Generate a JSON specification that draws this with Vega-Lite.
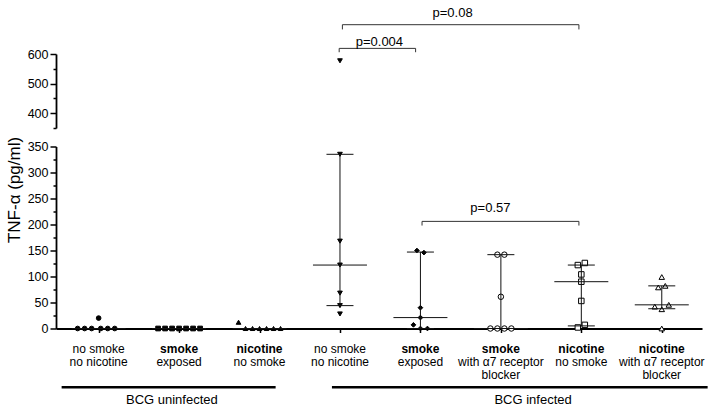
{
  "$schema": "https://vega.github.io/schema/vega-lite/v6.json",
  "padding": {"left": 5, "top": 6, "right": 5, "bottom": 0},
  "spacing": 6.5,
  "config": {
    "view": {"stroke": null},
    "font": "Liberation Sans",
    "axis": {"grid": false, "labelFont": "Liberation Sans", "titleFont": "Liberation Sans", "domainColor": "black", "tickColor": "black", "labelColor": "black", "titleColor": "black"},
    "text": {"font": "Liberation Sans", "color": "black"}
  },
  "datasets": {
    "points": [
      {"pos": 1, "value": 20, "jit": 0},
      {"pos": 1, "value": 0, "jit": -3}, {"pos": 1, "value": 0, "jit": -2}, {"pos": 1, "value": 0, "jit": -1},
      {"pos": 1, "value": 0, "jit": 0.3}, {"pos": 1, "value": 0, "jit": 1.3}, {"pos": 1, "value": 0, "jit": 2.3},
      {"pos": 2, "value": 0, "jit": -3}, {"pos": 2, "value": 0, "jit": -2}, {"pos": 2, "value": 0, "jit": -1}, {"pos": 2, "value": 0, "jit": 0},
      {"pos": 2, "value": 0, "jit": 1}, {"pos": 2, "value": 0, "jit": 2}, {"pos": 2, "value": 0, "jit": 3},
      {"pos": 3, "value": 12, "jit": -3},
      {"pos": 3, "value": 0, "jit": -2}, {"pos": 3, "value": 0, "jit": -1}, {"pos": 3, "value": 0, "jit": 0},
      {"pos": 3, "value": 0, "jit": 1}, {"pos": 3, "value": 0, "jit": 2}, {"pos": 3, "value": 0, "jit": 3},
      {"pos": 4, "value": 577, "jit": 0}, {"pos": 4, "value": 335, "jit": 0}, {"pos": 4, "value": 168, "jit": 0},
      {"pos": 4, "value": 122, "jit": 0}, {"pos": 4, "value": 68, "jit": 0}, {"pos": 4, "value": 44, "jit": 0}, {"pos": 4, "value": 28, "jit": 0},
      {"pos": 5, "value": 150, "jit": -0.5}, {"pos": 5, "value": 146, "jit": 0.5}, {"pos": 5, "value": 40, "jit": 0},
      {"pos": 5, "value": 21, "jit": 0}, {"pos": 5, "value": 7, "jit": -1}, {"pos": 5, "value": 0, "jit": 0}, {"pos": 5, "value": 0, "jit": 1},
      {"pos": 6, "value": 142, "jit": -0.5}, {"pos": 6, "value": 142, "jit": 0.5}, {"pos": 6, "value": 61, "jit": 0},
      {"pos": 6, "value": 0, "jit": -1.5}, {"pos": 6, "value": 0, "jit": -0.5}, {"pos": 6, "value": 0, "jit": 0.5}, {"pos": 6, "value": 0, "jit": 1.5},
      {"pos": 7, "value": 126, "jit": 0.5}, {"pos": 7, "value": 122, "jit": -0.5}, {"pos": 7, "value": 104, "jit": 0},
      {"pos": 7, "value": 90, "jit": 0}, {"pos": 7, "value": 53, "jit": 0}, {"pos": 7, "value": 2, "jit": -0.5}, {"pos": 7, "value": 7, "jit": 0.5},
      {"pos": 8, "value": 99, "jit": 0}, {"pos": 8, "value": 82, "jit": 0.5}, {"pos": 8, "value": 79, "jit": -0.5},
      {"pos": 8, "value": 45.5, "jit": 1}, {"pos": 8, "value": 42, "jit": -1}, {"pos": 8, "value": 37, "jit": 0}, {"pos": 8, "value": 0, "jit": 0}
    ],
    "stats": [
      {"pos": 1, "median": 0, "q1": 0, "q3": 0},
      {"pos": 2, "median": 0, "q1": 0, "q3": 0},
      {"pos": 3, "median": 0, "q1": 0, "q3": 0},
      {"pos": 4, "median": 122, "q1": 44, "q3": 335},
      {"pos": 5, "median": 21, "q1": 0, "q3": 147},
      {"pos": 6, "median": 0, "q1": 0, "q3": 142},
      {"pos": 7, "median": 90, "q1": 5, "q3": 122},
      {"pos": 8, "median": 45.5, "q1": 38, "q3": 82}
    ],
    "bracketsTop": [
      {"a": 3.99, "b": 4.94, "top": 619, "drop": 606, "label": "p=0.004", "lx": 4.49, "ly": 642},
      {"a": 4.03, "b": 6.97, "top": 699, "drop": 683, "label": "p=0.08", "lx": 5.40, "ly": 739}
    ],
    "bracketsLow": [
      {"a": 5.02, "b": 6.97, "top": 206, "drop": 198, "label": "p=0.57", "lx": 5.87, "ly": 231}
    ],
    "labels": [
      {"pos": 1, "row": "1", "text": "no smoke"}, {"pos": 1, "row": "2", "text": "no nicotine"},
      {"pos": 2, "row": "1", "text": "smoke"}, {"pos": 2, "row": "2", "text": "exposed"},
      {"pos": 3, "row": "1", "text": "nicotine"}, {"pos": 3, "row": "2", "text": "no smoke"},
      {"pos": 4, "row": "1", "text": "no smoke"}, {"pos": 4, "row": "2", "text": "no nicotine"},
      {"pos": 5, "row": "1", "text": "smoke"}, {"pos": 5, "row": "2", "text": "exposed"},
      {"pos": 6, "row": "1", "text": "smoke"}, {"pos": 6, "row": "2", "text": "with α7 receptor"}, {"pos": 6, "row": "3", "text": "blocker"},
      {"pos": 7, "row": "1", "text": "nicotine"}, {"pos": 7, "row": "2", "text": "no smoke"},
      {"pos": 8, "row": "1", "text": "nicotine"}, {"pos": 8, "row": "2", "text": "with α7 receptor"}, {"pos": 8, "row": "3", "text": "blocker"}
    ],
    "groups": [
      {"start": 0.54, "end": 3.20, "center": 1.91, "name": "BCG uninfected"},
      {"start": 3.90, "end": 8.57, "center": 6.40, "name": "BCG infected"}
    ]
  },
  "vconcat": [
    {
      "width": 646,
      "height": 74,
      "resolve": {"axis": {"y": "independent"}},
      "layer": [
        {
          "data": {"name": "points"},
          "transform": [{"filter": "datum.value > 350"}],
          "mark": {"type": "point", "filled": true, "stroke": "black", "strokeWidth": 1, "opacity": 1, "xOffset": {"expr": "datum.jit * 7"}},
          "encoding": {
            "x": {"field": "pos", "type": "quantitative", "scale": {"domain": [0.47, 8.5], "nice": false, "zero": false}, "axis": null},
            "y": {"field": "value", "type": "quantitative", "scale": {"domain": [350, 600], "nice": false, "zero": false},
                  "axis": {"orient": "left", "values": [400, 500, 600], "tickSize": 6, "tickWidth": 1.5, "domainWidth": 1.8, "labelFontSize": 12.5, "labelPadding": 2, "title": null, "offset": 0}},
            "shape": {"field": "pos", "type": "nominal", "legend": null,
                      "scale": {"domain": [1, 2, 3, 4, 5, 6, 7, 8], "range": ["circle", "square", "triangle-up", "triangle-down", "diamond", "circle", "square", "triangle-up"]}},
            "fill": {"condition": {"test": "datum.pos >= 6", "value": "white"}, "value": "black"},
            "size": {"condition": {"test": "datum.pos >= 6", "value": 30}, "value": 22}
          }
        },
        {
          "data": {"name": "bracketsTop"},
          "mark": {"type": "rule", "color": "#333", "strokeWidth": 1},
          "encoding": {
            "x": {"field": "a", "type": "quantitative", "scale": {"domain": [0.47, 8.5], "nice": false, "zero": false}},
            "x2": {"field": "b"},
            "y": {"field": "top", "type": "quantitative",
                  "axis": {"orient": "left", "values": [350, 450, 550], "tickSize": 3, "tickWidth": 1.5, "labels": false, "domain": false, "title": null, "offset": 0}}
          }
        },
        {
          "data": {"name": "bracketsTop"},
          "mark": {"type": "rule", "color": "#333", "strokeWidth": 1},
          "encoding": {
            "x": {"field": "a", "type": "quantitative"},
            "y": {"field": "top", "type": "quantitative", "axis": null},
            "y2": {"field": "drop"}
          }
        },
        {
          "data": {"name": "bracketsTop"},
          "mark": {"type": "rule", "color": "#333", "strokeWidth": 1},
          "encoding": {
            "x": {"field": "b", "type": "quantitative"},
            "y": {"field": "top", "type": "quantitative", "axis": null},
            "y2": {"field": "drop"}
          }
        },
        {
          "data": {"name": "bracketsTop"},
          "mark": {"type": "text", "fontSize": 13},
          "encoding": {
            "x": {"field": "lx", "type": "quantitative"},
            "y": {"field": "ly", "type": "quantitative", "axis": null},
            "text": {"field": "label"}
          }
        }
      ]
    },
    {
      "spacing": 7,
      "vconcat": [
        {
          "width": 646,
          "height": 182,
          "resolve": {"axis": {"y": "independent"}},
          "layer": [
            {
              "data": {"name": "points"},
              "transform": [{"filter": "datum.value <= 350"}],
              "mark": {"type": "point", "filled": true, "stroke": "black", "strokeWidth": 1, "opacity": 1, "xOffset": {"expr": "datum.jit * 7"}},
              "encoding": {
                "x": {"field": "pos", "type": "quantitative", "scale": {"domain": [0.47, 8.5], "nice": false, "zero": false},
                      "axis": {"values": [1, 2, 3, 4, 5, 6, 7, 8], "labels": false, "tickSize": 4, "tickWidth": 1.5, "domainWidth": 1.8, "title": null}},
                "y": {"field": "value", "type": "quantitative", "scale": {"domain": [0, 350], "nice": false, "zero": false},
                      "axis": {"orient": "left", "values": [0, 50, 100, 150, 200, 250, 300, 350], "tickSize": 6, "tickWidth": 1.5, "domainWidth": 1.8,
                               "labelFontSize": 12.5, "labelPadding": 2, "offset": 0,
                               "title": "TNF-α (pg/ml)", "titleFontSize": 17, "titleFontWeight": "normal", "titleAngle": 270,
                               "titleX": -42, "titleY": 43, "titleAlign": "center", "titleBaseline": "middle"}},
                "shape": {"field": "pos", "type": "nominal", "legend": null,
                          "scale": {"domain": [1, 2, 3, 4, 5, 6, 7, 8], "range": ["circle", "square", "triangle-up", "triangle-down", "diamond", "circle", "square", "triangle-up"]}},
                "fill": {"condition": {"test": "datum.pos >= 6", "value": "white"}, "value": "black"},
                "size": {"condition": {"test": "datum.pos >= 6", "value": 30}, "value": 22}
              }
            },
            {
              "data": {"name": "stats"},
              "mark": {"type": "rule", "color": "#111", "strokeWidth": 1},
              "encoding": {
                "x": {"field": "pos", "type": "quantitative"},
                "y": {"field": "q1", "type": "quantitative",
                      "axis": {"orient": "left", "values": [25, 75, 125, 175, 225, 275, 325], "tickSize": 3, "tickWidth": 1.5, "labels": false, "domain": false, "title": null, "offset": 0}},
                "y2": {"field": "q3"}
              }
            },
            {
              "data": {"name": "stats"},
              "mark": {"type": "rule", "color": "#111", "strokeWidth": 1, "xOffset": -27, "x2Offset": 27},
              "encoding": {
                "x": {"field": "pos", "type": "quantitative"},
                "x2": {"field": "pos"},
                "y": {"field": "median", "type": "quantitative", "axis": null}
              }
            },
            {
              "data": {"name": "stats"},
              "mark": {"type": "rule", "color": "#111", "strokeWidth": 1, "xOffset": -13.5, "x2Offset": 13.5},
              "encoding": {
                "x": {"field": "pos", "type": "quantitative"},
                "x2": {"field": "pos"},
                "y": {"field": "q1", "type": "quantitative", "axis": null}
              }
            },
            {
              "data": {"name": "stats"},
              "mark": {"type": "rule", "color": "#111", "strokeWidth": 1, "xOffset": -13.5, "x2Offset": 13.5},
              "encoding": {
                "x": {"field": "pos", "type": "quantitative"},
                "x2": {"field": "pos"},
                "y": {"field": "q3", "type": "quantitative", "axis": null}
              }
            },
            {
              "data": {"name": "bracketsLow"},
              "mark": {"type": "rule", "color": "#333", "strokeWidth": 1},
              "encoding": {
                "x": {"field": "a", "type": "quantitative"},
                "x2": {"field": "b"},
                "y": {"field": "top", "type": "quantitative", "axis": null}
              }
            },
            {
              "data": {"name": "bracketsLow"},
              "mark": {"type": "rule", "color": "#333", "strokeWidth": 1},
              "encoding": {
                "x": {"field": "a", "type": "quantitative"},
                "y": {"field": "top", "type": "quantitative", "axis": null},
                "y2": {"field": "drop"}
              }
            },
            {
              "data": {"name": "bracketsLow"},
              "mark": {"type": "rule", "color": "#333", "strokeWidth": 1},
              "encoding": {
                "x": {"field": "b", "type": "quantitative"},
                "y": {"field": "top", "type": "quantitative", "axis": null},
                "y2": {"field": "drop"}
              }
            },
            {
              "data": {"name": "bracketsLow"},
              "mark": {"type": "text", "fontSize": 13},
              "encoding": {
                "x": {"field": "lx", "type": "quantitative"},
                "y": {"field": "ly", "type": "quantitative", "axis": null},
                "text": {"field": "label"}
              }
            }
          ]
        },
        {
          "width": 646,
          "height": 64,
          "layer": [
            {
              "data": {"name": "labels"},
              "transform": [{"filter": "!(datum.row == '1' && (datum.text == 'smoke' || datum.text == 'nicotine'))"}],
              "mark": {"type": "text", "fontSize": 12},
              "encoding": {
                "x": {"field": "pos", "type": "quantitative", "scale": {"domain": [0.47, 8.5], "nice": false, "zero": false}, "axis": null},
                "y": {"field": "row", "type": "nominal", "scale": {"type": "point", "domain": ["1", "2", "3", "bar", "grp"], "padding": 0.5}, "axis": null},
                "text": {"field": "text"}
              }
            },
            {
              "data": {"name": "labels"},
              "transform": [{"filter": "datum.row == '1' && (datum.text == 'smoke' || datum.text == 'nicotine')"}],
              "mark": {"type": "text", "fontSize": 12, "fontWeight": "bold"},
              "encoding": {
                "x": {"field": "pos", "type": "quantitative"},
                "y": {"field": "row", "type": "nominal"},
                "text": {"field": "text"}
              }
            },
            {
              "data": {"name": "groups"},
              "mark": {"type": "rule", "color": "black", "strokeWidth": 2.5},
              "encoding": {
                "x": {"field": "start", "type": "quantitative"},
                "x2": {"field": "end"},
                "y": {"datum": "bar", "type": "nominal"}
              }
            },
            {
              "data": {"name": "groups"},
              "mark": {"type": "text", "fontSize": 13},
              "encoding": {
                "x": {"field": "center", "type": "quantitative"},
                "y": {"datum": "grp", "type": "nominal"},
                "text": {"field": "name"}
              }
            }
          ]
        }
      ]
    }
  ]
}
